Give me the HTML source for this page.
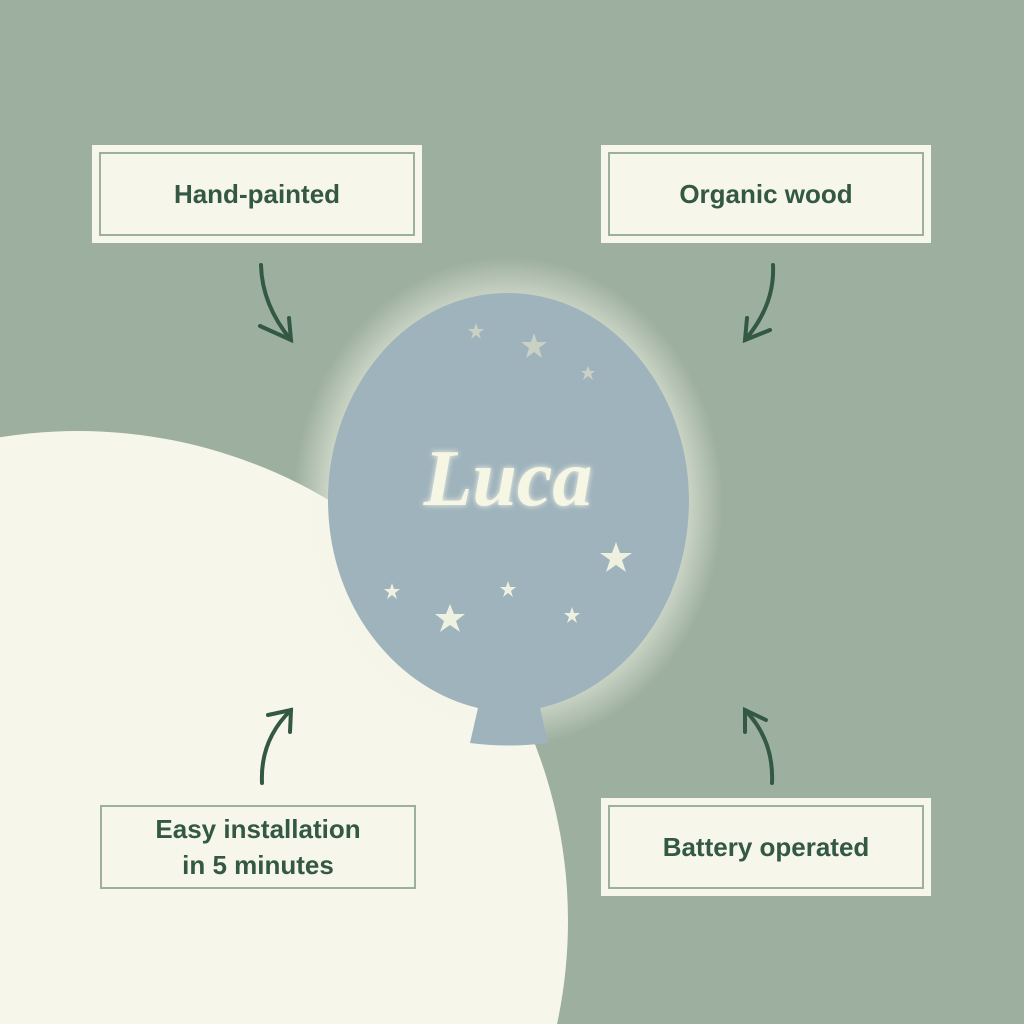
<!DOCTYPE html>
<html style="overflow:hidden"><head><style>
html,body{margin:0;width:1024px;height:1024px;overflow:hidden}
body{background:#9daf9f;position:relative;font-family:"Liberation Sans",sans-serif}
.box{position:absolute;background:#f6f6ea;box-sizing:border-box}
.in{position:absolute;left:7px;top:7px;right:7px;bottom:7px;border:2px solid #9daf9f;display:flex;align-items:center;justify-content:center;text-align:center;color:#335843;font-weight:bold;font-size:26px;line-height:36px}
</style></head><body>
<svg width="1024" height="1024" style="position:absolute;left:0;top:0">
<defs>
<radialGradient id="g" cx="0.5" cy="0.5" r="0.5">
<stop offset="0.75" stop-color="#f4f6e8" stop-opacity="0.8"/>
<stop offset="1" stop-color="#f4f6e8" stop-opacity="0"/>
</radialGradient>
<filter id="b"><feGaussianBlur stdDeviation="3"/></filter>
</defs>
<circle cx="78" cy="921" r="490" fill="#f6f6ea"/>
<ellipse cx="508" cy="502" rx="215" ry="245" fill="url(#g)"/>
<path d="M508 293 C610 293 689 390 689 500 C689 610 620 690 540 708 L548 743 Q508 748 470 743 L478 708 C400 690 328 610 328 500 C328 390 405 293 508 293Z" fill="#9fb3bd"/>
<text x="508" y="505" text-anchor="middle" font-family="Liberation Serif,serif" font-style="italic" font-weight="bold" font-size="80" fill="#f6f6e4" filter="url(#b)">Luca</text>
<text x="508" y="505" text-anchor="middle" font-family="Liberation Serif,serif" font-style="italic" font-weight="bold" font-size="80" fill="#f6f6e4">Luca</text>
<g fill="#eef0e0">
<polygon points="616,542 620,553 632,553 622,560 626,572 616,565 606,572 610,560 600,553 612,553"/>
<polygon points="450,604 454,614 465,614 456,621 460,632 450,625 440,632 444,621 435,614 446,614"/>
<polygon points="508,581 510,587 516,587 511,591 513,597 508,593 503,597 505,591 500,587 506,587"/>
<polygon points="392,583 394,589 400,589 395,593 397,599 392,595 387,599 389,593 384,589 390,589"/>
<polygon points="572,607 574,613 580,613 575,617 577,623 572,619 567,623 569,617 564,613 570,613"/>
<polygon points="534,333 537,342 547,342 539,348 542,358 534,352 526,358 529,348 521,342 531,342" fill="#c9d1c4"/>
<polygon points="476,323 478,329 484,329 479,333 481,339 476,335 471,339 473,333 468,329 474,329" fill="#c9d1c4"/>
<polygon points="588,366 590,371 595,371 591,374 593,380 588,376 583,380 585,374 581,371 586,371" fill="#c9d1c4"/>
</g>
<g fill="none" stroke="#335843" stroke-width="4" stroke-linecap="round">
<path d="M261 265 Q262 305 291 340"/><path d="M260 326 L291 340 L289 318"/>
<path d="M773 265 Q775 305 745 340"/><path d="M747 318 L745 340 L770 330"/>
<path d="M262 783 Q260 740 291 710"/><path d="M268 715 L291 710 L290 732"/>
<path d="M772 783 Q774 740 745 710"/><path d="M745 732 L745 710 L766 720"/>
</g>
</svg>
<div class="box" style="left:92px;top:145px;width:330px;height:98px"><div class="in">Hand-painted</div></div>
<div class="box" style="left:601px;top:145px;width:330px;height:98px"><div class="in">Organic wood</div></div>
<div class="box" style="left:601px;top:798px;width:330px;height:98px"><div class="in">Battery operated</div></div>
<div class="box" style="left:93px;top:798px;width:330px;height:98px;background:transparent"><div class="in">Easy installation<br>in 5 minutes</div></div>
</body></html>
